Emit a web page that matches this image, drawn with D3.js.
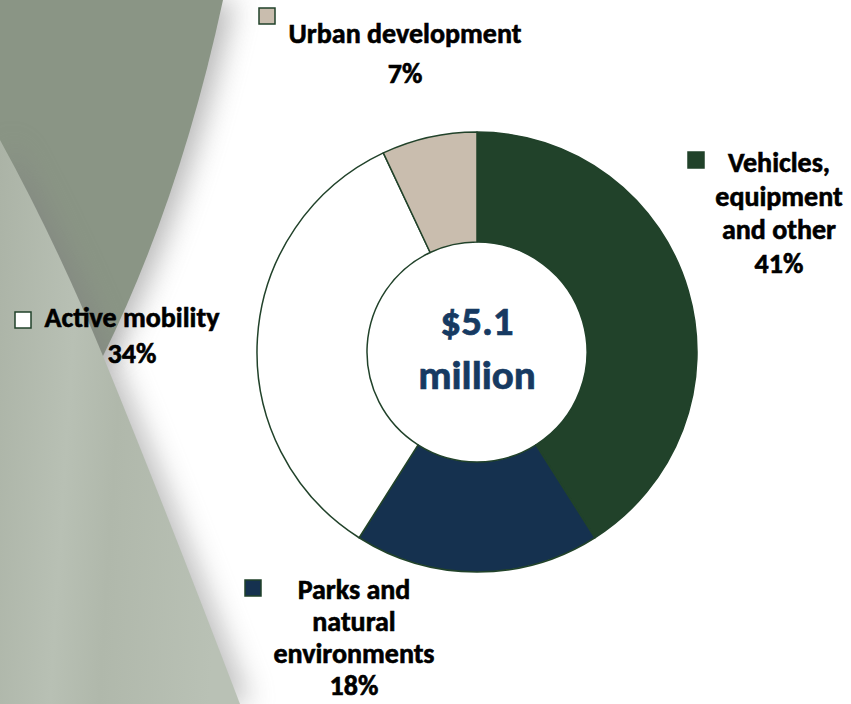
<!DOCTYPE html>
<html>
<head>
<meta charset="utf-8">
<script src="https://cdn.jsdelivr.net/npm/d3@7"></script>
<style>
  html, body { margin: 0; padding: 0; background: #fff; }
  svg { display: block; }
  text { font-family: Carlito, Calibri, Lato, "Open Sans", sans-serif; font-weight: 800; }
</style>
</head>
<body>
<svg id="chart" width="851" height="704"></svg>
<script>
// Funding split by category (percent of $5.1 million)
const categories = ["Vehicles, equipment and other", "Parks and natural environments", "Active mobility", "Urban development"];
const shares = [41, 18, 34, 7];
const sliceColors = ["#21422a", "#15314f", "#ffffff", "#c9bdae"];
const totalLabel = ["$5.1", "million"];

// Label blocks: wrapped lines for each category
const labelLines = [
  ["Vehicles,", "equipment", "and other"],
  ["Parks and", "natural", "environments"],
  ["Active mobility"],
  ["Urban development"]
];

const W = 851, H = 704;
const svg = d3.select("#chart");
const defs = svg.append("defs");

// ---------- background swoosh ----------
const shadow = defs.append("filter").attr("id", "soft").attr("x", "-50%").attr("y", "-10%").attr("width", "200%").attr("height", "120%");
shadow.append("feGaussianBlur").attr("stdDeviation", 14);

const bandGrad = defs.append("linearGradient").attr("id", "band")
  .attr("x1", 0).attr("y1", 0).attr("x2", 1).attr("y2", 0.15);
bandGrad.append("stop").attr("offset", "0").attr("stop-color", "#abb3a6");
bandGrad.append("stop").attr("offset", "0.35").attr("stop-color", "#b8c0b4");
bandGrad.append("stop").attr("offset", "0.55").attr("stop-color", "#b0b8ab");
bandGrad.append("stop").attr("offset", "1").attr("stop-color", "#b9c1b5");

const darkPath = "M0,0 L223,0 Q180,200 103,356 L0,356 Z";
const bandPath = "M0,140 Q55,240 103,356 Q170,520 240,704 L0,704 Z";

const bg = svg.append("g");
bg.append("rect").attr("width", W).attr("height", H).attr("fill", "#ffffff");
bg.append("path").attr("d", darkPath).attr("fill", "#888").attr("opacity", 0.6)
  .attr("transform", "translate(11,0)").attr("filter", "url(#soft)");
bg.append("path").attr("d", darkPath).attr("fill", "#8a9585");
bg.append("path").attr("d", bandPath).attr("fill", "#7f7f7f").attr("opacity", 0.5)
  .attr("transform", "translate(10,0)").attr("filter", "url(#soft)");
bg.append("path").attr("d", bandPath).attr("fill", "url(#band)");

// ---------- donut ----------
const cx = 477, cy = 352, outerR = 220, innerR = 110;
const outline = "#21422a";

const pie = d3.pie().sort(null).value(d => d.value).startAngle(0).endAngle(2 * Math.PI);
const arc = d3.arc().innerRadius(innerR).outerRadius(outerR);
const data = categories.map((c, i) => ({ name: c, value: shares[i], color: sliceColors[i], lines: labelLines[i] }));

const g = svg.append("g").attr("transform", `translate(${cx},${cy})`);
g.selectAll("path.slice")
  .data(pie(data))
  .join("path")
  .attr("class", "slice")
  .attr("d", arc)
  .attr("fill", d => d.data.color)
  .attr("stroke", outline)
  .attr("stroke-width", 1.5)
  .attr("stroke-linejoin", "round");

// centre total
g.selectAll("text.total")
  .data(totalLabel)
  .join("text")
  .attr("class", "total")
  .attr("text-anchor", "middle")
  .attr("x", 0)
  .attr("y", (d, i) => -17 + i * 54)
  .attr("fill", "#163a62")
  .attr("stroke", "#163a62")
  .attr("stroke-width", 0.7)
  .attr("font-size", 41)
  .text(d => d);

// ---------- labels with legend keys ----------
const labelPos = [
  { x: 779, y: 172, dy: 33.5, key: [688, 152] },
  { x: 354, y: 599, dy: 32, key: [245, 580] },
  { x: 132, y: 327, dy: 36, key: [15, 312] },
  { x: 405, y: 43, dy: 40, key: [259, 8] }
];

const labels = svg.append("g").selectAll("g.label")
  .data(data)
  .join("g")
  .attr("class", "label");

labels.append("rect")
  .attr("x", (d, i) => labelPos[i].key[0])
  .attr("y", (d, i) => labelPos[i].key[1])
  .attr("width", 16).attr("height", 16)
  .attr("fill", d => d.color)
  .attr("stroke", outline)
  .attr("stroke-width", 1.5);

labels.each(function (d, i) {
  const p = labelPos[i];
  const lines = d.lines.concat([d3.format(".0f")(d.value) + "%"]);
  d3.select(this).selectAll("text")
    .data(lines)
    .join("text")
    .attr("x", p.x)
    .attr("y", (t, j) => p.y + j * p.dy)
    .attr("text-anchor", "middle")
    .attr("font-size", 28)
    .attr("fill", "#000")
    .attr("stroke", "#000")
    .attr("stroke-width", 0.6)
    .text(t => t);
});
</script>
</body>
</html>
